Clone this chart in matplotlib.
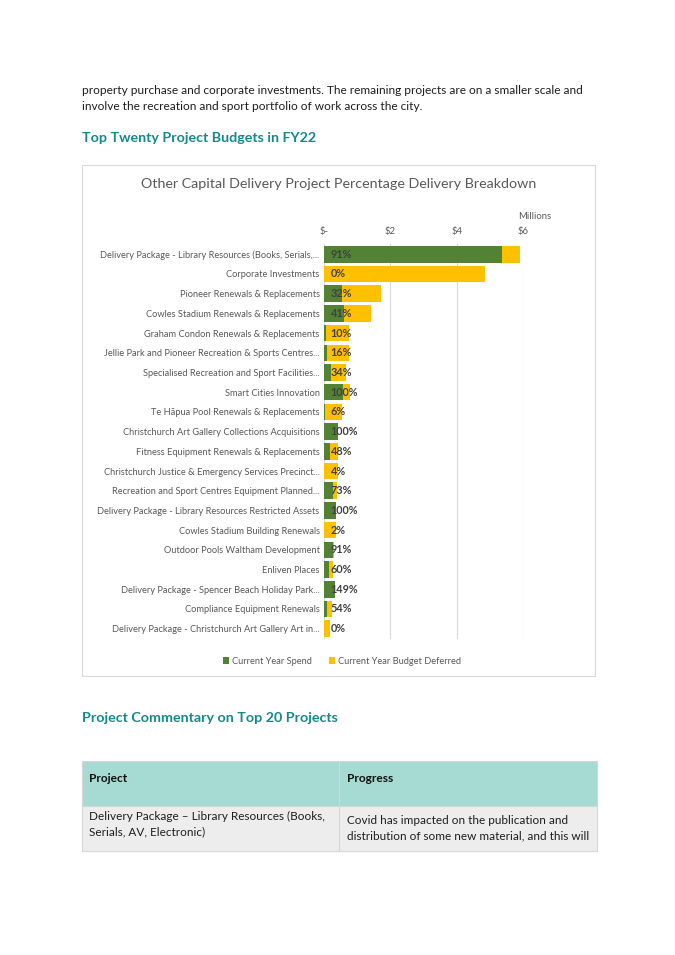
import matplotlib
matplotlib.use("Agg")
import matplotlib.pyplot as plt
from matplotlib.patches import Rectangle

plt.rcParams['font.family'] = ['Lato', 'DejaVu Sans']

# data (millions)
projects = [
    "Delivery Package - Library Resources (Books, Serials,...",
    "Corporate Investments",
    "Pioneer Renewals & Replacements",
    "Cowles Stadium Renewals & Replacements",
    "Graham Condon Renewals & Replacements",
    "Jellie Park and Pioneer Recreation & Sports Centres...",
    "Specialised Recreation and Sport Facilities...",
    "Smart Cities Innovation",
    "Te Hāpua Pool Renewals & Replacements",
    "Christchurch Art Gallery Collections Acquisitions",
    "Fitness Equipment Renewals & Replacements",
    "Christchurch Justice & Emergency Services Precinct...",
    "Recreation and Sport Centres Equipment Planned...",
    "Delivery Package - Library Resources Restricted Assets",
    "Cowles Stadium Building Renewals",
    "Outdoor Pools Waltham Development",
    "Enliven Places",
    "Delivery Package - Spencer Beach Holiday Park...",
    "Compliance Equipment Renewals",
    "Delivery Package - Christchurch Art Gallery Art in...",
]
spend = [5.36, 0.0, 0.55, 0.61, 0.07, 0.11, 0.22, 0.58, 0.03, 0.43,
         0.19, 0.02, 0.28, 0.37, 0.01, 0.28, 0.15, 0.34, 0.09, 0.0]
deferred = [0.54, 4.85, 1.17, 0.81, 0.69, 0.65, 0.45, 0.21, 0.52, 0.0,
            0.25, 0.41, 0.12, 0.0, 0.36, 0.03, 0.13, 0.0, 0.16, 0.19]
pct_labels = ["91%", "0%", "32%", "41%", "10%", "16%", "34%", "100%", "6%", "100%",
              "48%", "4%", "73%", "100%", "2%", "91%", "60%", "149%", "54%", "0%"]
tick_vals = [0, 2, 4, 6]
tick_labels = ["$-", "$2", "$4", "$6"]

W, H = 675, 955
GREEN = "#548235"
YELLOW = "#FFC000"
GREY = "#595959"
TEAL = "#12898a"
BODY = "#1e1e1e"

fig = plt.figure(figsize=(W / 100, H / 100), dpi=100)


def fx(px):
    return px / W


def fy(py):
    return 1 - py / H


# page text
fig.text(fx(82), fy(90), "property purchase and corporate investments. The remaining projects are on a smaller scale and",
         fontsize=8.6, color=BODY, va='center')
fig.text(fx(82), fy(106), "involve the recreation and sport portfolio of work across the city.",
         fontsize=8.6, color=BODY, va='center')
fig.text(fx(82), fy(138), "Top Twenty Project Budgets in FY22", fontsize=10.3, fontweight='bold',
         color=TEAL, va='center')

# chart frame
fig.add_artist(Rectangle((fx(82), fy(676)), fx(595) - fx(82), fy(165) - fy(676),
                         transform=fig.transFigure, fill=False, edgecolor="#d9d9d9", lw=0.8))
fig.text(fx(339), fy(184), "Other Capital Delivery Project Percentage Delivery Breakdown",
         fontsize=10.3, color=GREY, ha='center', va='center')
fig.text(fx(535), fy(216), "Millions", fontsize=6.8, color=GREY, ha='center', va='center')

ax = fig.add_axes([fx(323.7), fy(638.5), fx(523) - fx(323.7), fy(244.4) - fy(638.5)])
y = list(range(len(projects)))
ax.barh(y, spend, height=0.84, color=GREEN, label="Current Year Spend", zorder=2)
ax.barh(y, deferred, left=spend, height=0.84, color=YELLOW, label="Current Year Budget Deferred", zorder=2)
for i, lab in enumerate(pct_labels):
    ax.annotate(lab, (0, i), xytext=(5, 0), textcoords='offset points',
                fontsize=7.8, fontweight='bold', color="#404040", va='center', zorder=3)

ax.set_xlim(0, 6)
ax.set_ylim(len(projects) - 0.5, -0.5)
ax.set_xticks(tick_vals)
ax.set_xticklabels(tick_labels)
ax.set_yticks(y)
ax.set_yticklabels(projects)
ax.xaxis.tick_top()
ax.tick_params(axis='x', length=0, pad=6, labelsize=6.8, labelcolor=GREY)
ax.tick_params(axis='y', length=0, pad=3, labelsize=6.7, labelcolor=GREY)
ax.grid(axis='x', color="#d9d9d9", lw=0.8, zorder=0)
for s in ax.spines.values():
    s.set_visible(False)

handles, labels = ax.get_legend_handles_labels()
fig.legend(handles, labels, loc='center', bbox_to_anchor=(fx(342), fy(661)), ncol=2,
           frameon=False, fontsize=6.7, handlelength=0.7, handleheight=0.7,
           handletextpad=0.3, columnspacing=1.8, labelcolor=GREY)

# commentary section
fig.text(fx(82), fy(718), "Project Commentary on Top 20 Projects", fontsize=10.3, fontweight='bold',
         color=TEAL, va='center')
fig.add_artist(Rectangle((fx(82), fy(806)), fx(597) - fx(82), fy(761) - fy(806),
                         transform=fig.transFigure, facecolor="#a6dbd3", edgecolor="#d6d6d6", lw=0.8))
fig.add_artist(Rectangle((fx(82), fy(851)), fx(597) - fx(82), fy(806) - fy(851),
                         transform=fig.transFigure, facecolor="#ededed", edgecolor="#d6d6d6", lw=0.8))
fig.add_artist(plt.Line2D([fx(339), fx(339)], [fy(761), fy(851)], transform=fig.transFigure,
                          color="#d6d6d6", lw=0.8))
fig.text(fx(89), fy(778), "Project", fontsize=8.6, fontweight='bold', color="#111111", va='center')
fig.text(fx(347), fy(778), "Progress", fontsize=8.6, fontweight='bold', color="#111111", va='center')
fig.text(fx(89), fy(816), "Delivery Package – Library Resources (Books,", fontsize=8.5, color=BODY, va='center')
fig.text(fx(89), fy(832), "Serials, AV, Electronic)", fontsize=8.5, color=BODY, va='center')
fig.text(fx(347), fy(820), "Covid has impacted on the publication and", fontsize=8.5, color=BODY, va='center')
fig.text(fx(347), fy(836), "distribution of some new material, and this will", fontsize=8.5, color=BODY, va='center')

fig.savefig("out.png", dpi=100, facecolor="white")
